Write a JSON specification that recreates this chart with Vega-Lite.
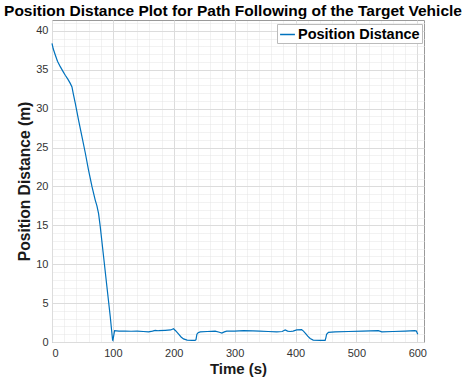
{
  "$schema": "https://vega.github.io/schema/vega-lite/v6.json",
  "width": 372,
  "height": 322,
  "autosize": "none",
  "padding": {"left": 52, "top": 20, "right": 43, "bottom": 42},
  "config": {
    "font": "Liberation Sans",
    "view": {"stroke": "#9a9a9a", "strokeWidth": 1}
  },
  "title": {
    "text": "Position Distance Plot for Path Following of the Target Vehicle",
    "fontSize": 15.5,
    "fontWeight": "bold",
    "color": "#000000",
    "anchor": "middle",
    "frame": "group",
    "offset": 1,
    "dx": -5
  },
  "data": {
    "values": [
      {"t": 0, "d": 38.4, "series": "Position Distance"},
      {"t": 2, "d": 37.7, "series": "Position Distance"},
      {"t": 5.4, "d": 36.9, "series": "Position Distance"},
      {"t": 9, "d": 36.1, "series": "Position Distance"},
      {"t": 13.6, "d": 35.4, "series": "Position Distance"},
      {"t": 18, "d": 34.8, "series": "Position Distance"},
      {"t": 21.8, "d": 34.3, "series": "Position Distance"},
      {"t": 26, "d": 33.8, "series": "Position Distance"},
      {"t": 30, "d": 33.25, "series": "Position Distance"},
      {"t": 32.8, "d": 32.8, "series": "Position Distance"},
      {"t": 35, "d": 31.9, "series": "Position Distance"},
      {"t": 38.2, "d": 30.7, "series": "Position Distance"},
      {"t": 43.7, "d": 28.5, "series": "Position Distance"},
      {"t": 49.2, "d": 26.4, "series": "Position Distance"},
      {"t": 54.7, "d": 24.3, "series": "Position Distance"},
      {"t": 60, "d": 22.1, "series": "Position Distance"},
      {"t": 65.6, "d": 20.0, "series": "Position Distance"},
      {"t": 71, "d": 18.25, "series": "Position Distance"},
      {"t": 73.8, "d": 17.5, "series": "Position Distance"},
      {"t": 76.5, "d": 16.5, "series": "Position Distance"},
      {"t": 79.3, "d": 14.8, "series": "Position Distance"},
      {"t": 84.7, "d": 11.0, "series": "Position Distance"},
      {"t": 90.2, "d": 7.1, "series": "Position Distance"},
      {"t": 95.7, "d": 3.25, "series": "Position Distance"},
      {"t": 99.5, "d": 0.25, "series": "Position Distance"},
      {"t": 100, "d": 0.2, "series": "Position Distance"},
      {"t": 102.8, "d": 1.45, "series": "Position Distance"},
      {"t": 110, "d": 1.4, "series": "Position Distance"},
      {"t": 120, "d": 1.4, "series": "Position Distance"},
      {"t": 130, "d": 1.38, "series": "Position Distance"},
      {"t": 140, "d": 1.4, "series": "Position Distance"},
      {"t": 150, "d": 1.35, "series": "Position Distance"},
      {"t": 158.6, "d": 1.3, "series": "Position Distance"},
      {"t": 165, "d": 1.4, "series": "Position Distance"},
      {"t": 169.5, "d": 1.5, "series": "Position Distance"},
      {"t": 175, "d": 1.45, "series": "Position Distance"},
      {"t": 186, "d": 1.5, "series": "Position Distance"},
      {"t": 195, "d": 1.55, "series": "Position Distance"},
      {"t": 199.6, "d": 1.7, "series": "Position Distance"},
      {"t": 203, "d": 1.45, "series": "Position Distance"},
      {"t": 208, "d": 1.0, "series": "Position Distance"},
      {"t": 212, "d": 0.65, "series": "Position Distance"},
      {"t": 216, "d": 0.4, "series": "Position Distance"},
      {"t": 222, "d": 0.25, "series": "Position Distance"},
      {"t": 230, "d": 0.2, "series": "Position Distance"},
      {"t": 235, "d": 0.2, "series": "Position Distance"},
      {"t": 236.5, "d": 0.3, "series": "Position Distance"},
      {"t": 238, "d": 1.0, "series": "Position Distance"},
      {"t": 240, "d": 1.2, "series": "Position Distance"},
      {"t": 243.4, "d": 1.3, "series": "Position Distance"},
      {"t": 255, "d": 1.35, "series": "Position Distance"},
      {"t": 268, "d": 1.4, "series": "Position Distance"},
      {"t": 275, "d": 1.25, "series": "Position Distance"},
      {"t": 279, "d": 1.15, "series": "Position Distance"},
      {"t": 283, "d": 1.3, "series": "Position Distance"},
      {"t": 287, "d": 1.4, "series": "Position Distance"},
      {"t": 300, "d": 1.4, "series": "Position Distance"},
      {"t": 314.5, "d": 1.45, "series": "Position Distance"},
      {"t": 330, "d": 1.42, "series": "Position Distance"},
      {"t": 341, "d": 1.4, "series": "Position Distance"},
      {"t": 355, "d": 1.35, "series": "Position Distance"},
      {"t": 369, "d": 1.3, "series": "Position Distance"},
      {"t": 378, "d": 1.35, "series": "Position Distance"},
      {"t": 383, "d": 1.55, "series": "Position Distance"},
      {"t": 387, "d": 1.4, "series": "Position Distance"},
      {"t": 391, "d": 1.35, "series": "Position Distance"},
      {"t": 396, "d": 1.4, "series": "Position Distance"},
      {"t": 402, "d": 1.55, "series": "Position Distance"},
      {"t": 410, "d": 1.6, "series": "Position Distance"},
      {"t": 413, "d": 1.4, "series": "Position Distance"},
      {"t": 417, "d": 1.05, "series": "Position Distance"},
      {"t": 420, "d": 0.75, "series": "Position Distance"},
      {"t": 424, "d": 0.45, "series": "Position Distance"},
      {"t": 429, "d": 0.25, "series": "Position Distance"},
      {"t": 440, "d": 0.2, "series": "Position Distance"},
      {"t": 448.6, "d": 0.2, "series": "Position Distance"},
      {"t": 450, "d": 0.6, "series": "Position Distance"},
      {"t": 451, "d": 1.0, "series": "Position Distance"},
      {"t": 454, "d": 1.25, "series": "Position Distance"},
      {"t": 465, "d": 1.3, "series": "Position Distance"},
      {"t": 487, "d": 1.35, "series": "Position Distance"},
      {"t": 510, "d": 1.4, "series": "Position Distance"},
      {"t": 536, "d": 1.45, "series": "Position Distance"},
      {"t": 541.7, "d": 1.3, "series": "Position Distance"},
      {"t": 560, "d": 1.35, "series": "Position Distance"},
      {"t": 580, "d": 1.4, "series": "Position Distance"},
      {"t": 596, "d": 1.45, "series": "Position Distance"},
      {"t": 598.5, "d": 1.4, "series": "Position Distance"},
      {"t": 600.7, "d": 1.0, "series": "Position Distance"}
    ]
  },
  "resolve": {"axis": {"x": "independent", "y": "independent"}},
  "layer": [
    {
      "mark": {"type": "line", "opacity": 0},
      "encoding": {
        "x": {
          "field": "t", "type": "quantitative",
          "scale": {"domain": [0, 611], "nice": false, "zero": false},
          "axis": {
            "orient": "top", "title": null, "labels": false, "ticks": false, "domain": false,
            "grid": true, "gridColor": "#e4e4e4", "gridDash": [1, 1], "gridWidth": 1,
            "values": [20,40,60,80,120,140,160,180,220,240,260,280,320,340,360,380,420,440,460,480,520,540,560,580]
          }
        },
        "y": {
          "field": "d", "type": "quantitative",
          "scale": {"domain": [0, 41.4], "nice": false, "zero": false},
          "axis": {
            "orient": "right", "title": null, "labels": false, "ticks": false, "domain": false,
            "grid": true, "gridColor": "#e4e4e4", "gridDash": [1, 1], "gridWidth": 1,
            "values": [1,2,3,4,6,7,8,9,11,12,13,14,16,17,18,19,21,22,23,24,26,27,28,29,31,32,33,34,36,37,38,39,41]
          }
        }
      }
    },
    {
      "mark": {"type": "line", "strokeWidth": 1.2},
      "encoding": {
        "x": {
          "field": "t", "type": "quantitative",
          "scale": {"domain": [0, 611], "nice": false, "zero": false},
          "axis": {
            "orient": "bottom", "title": "Time (s)",
            "values": [0,100,200,300,400,500,600],
            "grid": true, "gridColor": "#dcdcdc", "gridWidth": 1,
            "ticks": false, "domain": false,
            "labelFontSize": 11, "labelColor": "#333333", "labelPadding": 5,
            "titleFontSize": 15, "titleFontWeight": "bold", "titleColor": "#1a1a1a", "titlePadding": 3
          }
        },
        "y": {
          "field": "d", "type": "quantitative",
          "scale": {"domain": [0, 41.4], "nice": false, "zero": false},
          "axis": {
            "orient": "left", "title": "Position Distance (m)",
            "values": [0,5,10,15,20,25,30,35,40],
            "grid": true, "gridColor": "#dcdcdc", "gridWidth": 1,
            "ticks": false, "domain": false,
            "labelFontSize": 11, "labelColor": "#333333", "labelPadding": 4,
            "titleFontSize": 15.6, "titleFontWeight": "bold", "titleColor": "#1a1a1a", "titlePadding": 3
          }
        },
        "color": {
          "field": "series", "type": "nominal",
          "scale": {"range": ["#0072BD"]},
          "legend": {
            "title": null, "orient": "none", "legendX": 225, "legendY": 4,
            "symbolType": "stroke", "symbolSize": 220, "symbolStrokeWidth": 1.5,
            "labelFontSize": 14.5, "labelFontWeight": "bold", "labelColor": "#000000",
            "labelOffset": 2, "padding": 2, "fillColor": "#ffffff", "strokeColor": "#bbbbbb",
            "cornerRadius": 0
          }
        }
      }
    }
  ]
}
